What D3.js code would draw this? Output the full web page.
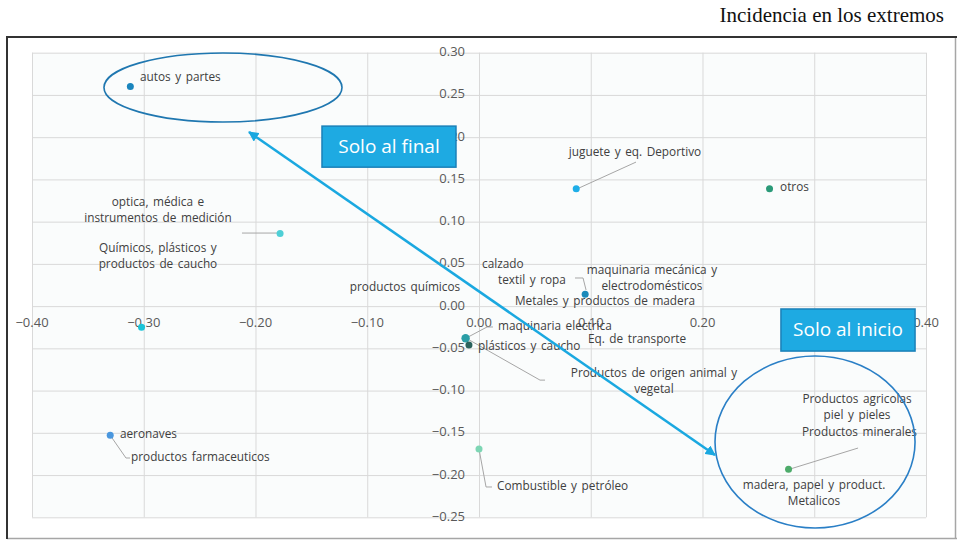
<!DOCTYPE html>
<html><head><meta charset="utf-8">
<script src="https://cdn.jsdelivr.net/npm/d3@7"></script>
<style>
html,body{margin:0;padding:0;background:#fff;}
svg{display:block;}
</style></head>
<body>
<svg id="chart" width="957" height="541"></svg>
<script>
// ---------- data ----------
const categories = ["autos y partes","optica, médica e instrumentos de medición","Químicos, plásticos y productos de caucho","aeronaves","juguete y eq. Deportivo","otros","maquinaria mecánica y electrodomésticos","maquinaria electrica","plásticos y caucho","Combustible y petróleo","madera, papel y product. Metalicos"];
const xValues = [-0.312,-0.178,-0.302,-0.330,0.087,0.260,0.095,-0.012,-0.009,0.000,0.277];
const yValues = [0.260,0.086,-0.025,-0.153,0.139,0.139,0.014,-0.038,-0.046,-0.169,-0.193];
const pointColors = ["#1a85bd","#4ecfd6","#1cc4d8","#4a97de","#1eaee8","#2a9a78","#1a8aba","#2a9ea6","#2b625d","#7dd6b4","#4dab6a"];
const xTicks = [-0.40,-0.30,-0.20,-0.10,0.00,0.10,0.20,0.30,0.40];
const yTicks = [0.30,0.25,0.20,0.15,0.10,0.05,0.00,-0.05,-0.10,-0.15,-0.20,-0.25];
const title = "Incidencia en los extremos";

// label annotations (data coordinates)
const labelLines = [
  {lines:["autos y partes"], x:-0.3034, y:0.2699, anchor:"start"},
  {lines:["optica, médica e","instrumentos  de medición"], x:-0.2873, y:0.1221, anchor:"middle"},
  {lines:["Químicos, plásticos y","productos de caucho"], x:-0.2873, y:0.0676, anchor:"middle"},
  {lines:["juguete y eq. Deportivo"], x:0.1396, y:0.1813, anchor:"middle"},
  {lines:["otros"], x:0.2694, y:0.1395, anchor:"start"},
  {lines:["calzado"], x:0.0027, y:0.0487, anchor:"start"},
  {lines:["textil y ropa"], x:0.0170, y:0.0301, anchor:"start"},
  {lines:["maquinaria mecánica y","electrodomésticos"], x:0.1548, y:0.0416, anchor:"middle"},
  {lines:["Metales y productos de madera"], x:0.1128, y:0.0049, anchor:"middle"},
  {lines:["productos químicos"], x:-0.0662, y:0.0214, anchor:"middle"},
  {lines:["maquinaria electrica"], x:0.0170, y:-0.0247, anchor:"start"},
  {lines:["plásticos y caucho"], x:-0.0009, y:-0.0484, anchor:"start"},
  {lines:["Eq. de transporte"], x:0.1414, y:-0.0401, anchor:"middle"},
  {lines:["Productos de origen animal y","vegetal"], x:0.1566, y:-0.0804, anchor:"middle"},
  {lines:["aeronaves"], x:-0.3213, y:-0.1526, anchor:"start"},
  {lines:["productos farmaceuticos"], x:-0.3114, y:-0.1798, anchor:"start"},
  {lines:["Combustible y petróleo"], x:0.0161, y:-0.2141, anchor:"start"},
  {lines:["Productos agricolas","piel y pieles"], x:0.3383, y:-0.1112, anchor:"middle"},
  {lines:["Productos minerales"], x:0.2890, y:-0.1502, anchor:"start"},
  {lines:["madera, papel y product.","Metalicos"], x:0.2998, y:-0.2130, anchor:"middle"}
];
const leaderLines = [
  [[-0.2121,0.0865],[-0.1794,0.0865]],
  [[0.0895,0.1398],[0.1405,0.1705]],
  [[0.0859,0.0333],[0.0931,0.0333],[0.0958,0.0191]],
  [[-0.0116,-0.0379],[0.0072,-0.0247],[0.0125,-0.0247]],
  [[-0.0116,-0.0379],[0.0546,-0.0876],[0.0591,-0.0876]],
  [[-0.3302,-0.1526],[-0.3159,-0.1798],[-0.3123,-0.1798]],
  [[0.0000,-0.1692],[0.0063,-0.2141],[0.0116,-0.2141]],
  [[0.2783,-0.1929],[0.3392,-0.1680]]
];
const ellipses = [
  {cx:-0.2291, cy:0.2588, rx:0.1065, ry:0.0408, color:"#1f77b0"},
  {cx:0.3007, cy:-0.1609, rx:0.0895, ry:0.1018, color:"#2a7fc6"}
];
const arrowEnds = [[-0.2058,0.2061],[0.2112,-0.1763]];
const callouts = [
  {text:"Solo al final", x0:-0.1405, x1:-0.0206, y0:0.2131, y1:0.1645},
  {text:"Solo al inicio", x0:0.2702, x1:0.3902, y0:-0.0034, y1:-0.0532}
];

// ---------- drawing ----------
const svg = d3.select("#chart");
const font = "'Open Sans', sans-serif";
const x = d3.scaleLinear().domain([-0.40,0.40]).range([32,926]);
const y = d3.scaleLinear().domain([-0.25,0.30]).range([517.3,52.7]);

// title
svg.append("text").attr("x",944).attr("y",22).attr("text-anchor","end")
  .attr("font-family","'Liberation Serif', 'Times New Roman', serif").attr("font-size",21)
  .attr("fill","#111").text(title);

// frame
svg.append("line").attr("x1",955.5).attr("x2",955.5).attr("y1",37).attr("y2",539).attr("stroke","#a6a6a6").attr("stroke-width",1.5);
svg.append("line").attr("x1",7).attr("x2",957).attr("y1",538.5).attr("y2",538.5).attr("stroke","#a6a6a6").attr("stroke-width",1.5);
svg.append("line").attr("x1",6).attr("x2",957).attr("y1",37).attr("y2",37).attr("stroke","#333").attr("stroke-width",2);
svg.append("line").attr("x1",7).attr("x2",7).attr("y1",36).attr("y2",539).attr("stroke","#333").attr("stroke-width",2);

// plot background
svg.append("rect").attr("x",x(-0.4)).attr("y",y(0.30)).attr("width",x(0.4)-x(-0.4)).attr("height",y(-0.25)-y(0.30)).attr("fill","#fafcfc");

// gridlines via axes
const gx = svg.append("g").attr("transform",`translate(0,${y(-0.25)})`)
  .call(d3.axisBottom(x).tickValues(xTicks).tickSize(-(y(-0.25)-y(0.30))).tickFormat(""));
const gy = svg.append("g").attr("transform",`translate(${x(-0.4)},0)`)
  .call(d3.axisLeft(y).tickValues(yTicks).tickSize(-(x(0.4)-x(-0.4))).tickFormat(""));
[gx,gy].forEach(g=>{
  g.select(".domain").remove();
  g.selectAll(".tick line").attr("stroke","#d9d9d9").attr("stroke-width",1);
});

// tick labels
const fmt = d3.format(".2f");
svg.append("g").selectAll("text").data(xTicks).join("text")
  .attr("x",d=>x(d)).attr("y",y(0)+17).attr("text-anchor","middle").attr("dominant-baseline","middle")
  .attr("font-family",font).attr("font-size",13).attr("fill","#595959").text(d=>fmt(d));
svg.append("g").selectAll("text").data(yTicks).join("text")
  .attr("x",x(0)-14).attr("y",d=>y(d)).attr("text-anchor","end").attr("dominant-baseline","middle")
  .attr("font-family",font).attr("font-size",13).attr("fill","#595959").text(d=>fmt(d));

// leader lines
const lineGen = d3.line().x(d=>x(d[0])).y(d=>y(d[1]));
svg.append("g").selectAll("path").data(leaderLines).join("path")
  .attr("d",lineGen).attr("fill","none").attr("stroke","#a6a6a6").attr("stroke-width",1);

// points
svg.append("g").selectAll("circle").data(categories).join("circle")
  .attr("cx",(d,i)=>x(xValues[i])).attr("cy",(d,i)=>y(yValues[i]))
  .attr("r",(d,i)=>i===7?4.2:3.5).attr("fill",(d,i)=>pointColors[i]);

// labels
const lg = svg.append("g");
labelLines.forEach(l=>{
  const t = lg.append("text").attr("text-anchor",l.anchor).attr("font-family",font)
    .attr("font-size",11.8).attr("word-spacing","1.5px").attr("fill","#404040");
  l.lines.forEach((s,k)=>{
    t.append("tspan").attr("x",x(l.x)).attr("y",y(l.y)+k*15.5).attr("dominant-baseline","middle").text(s);
  });
});

// ellipses
svg.append("g").selectAll("ellipse").data(ellipses).join("ellipse")
  .attr("cx",d=>x(d.cx)).attr("cy",d=>y(d.cy))
  .attr("rx",d=>x(d.rx)-x(0)).attr("ry",d=>y(0)-y(d.ry))
  .attr("fill","none").attr("stroke",d=>d.color).attr("stroke-width",1.6);

// arrow
const defs = svg.append("defs");
defs.append("marker").attr("id","ah").attr("viewBox","0 0 10 10").attr("refX",9).attr("refY",5)
  .attr("markerWidth",4).attr("markerHeight",4).attr("orient","auto-start-reverse")
  .append("path").attr("d","M0,0 L10,5 L0,10 Z").attr("fill","#1aa8e0");
svg.append("line").attr("x1",x(arrowEnds[0][0])).attr("y1",y(arrowEnds[0][1]))
  .attr("x2",x(arrowEnds[1][0])).attr("y2",y(arrowEnds[1][1]))
  .attr("stroke","#1aa8e0").attr("stroke-width",2.6)
  .attr("marker-start","url(#ah)").attr("marker-end","url(#ah)");

// callouts
const cg = svg.append("g").selectAll("g").data(callouts).join("g");
cg.append("rect").attr("x",d=>x(d.x0)).attr("y",d=>y(d.y0))
  .attr("width",d=>x(d.x1)-x(d.x0)).attr("height",d=>y(d.y1)-y(d.y0))
  .attr("fill","#1eaae2").attr("stroke","#1a80b8").attr("stroke-width",1.5);
cg.append("text").attr("x",d=>(x(d.x0)+x(d.x1))/2).attr("y",d=>(y(d.y0)+y(d.y1))/2+1)
  .attr("text-anchor","middle").attr("dominant-baseline","middle")
  .attr("font-family",font).attr("font-size",19).attr("fill","#fff").text(d=>d.text);
</script>
</body></html>
